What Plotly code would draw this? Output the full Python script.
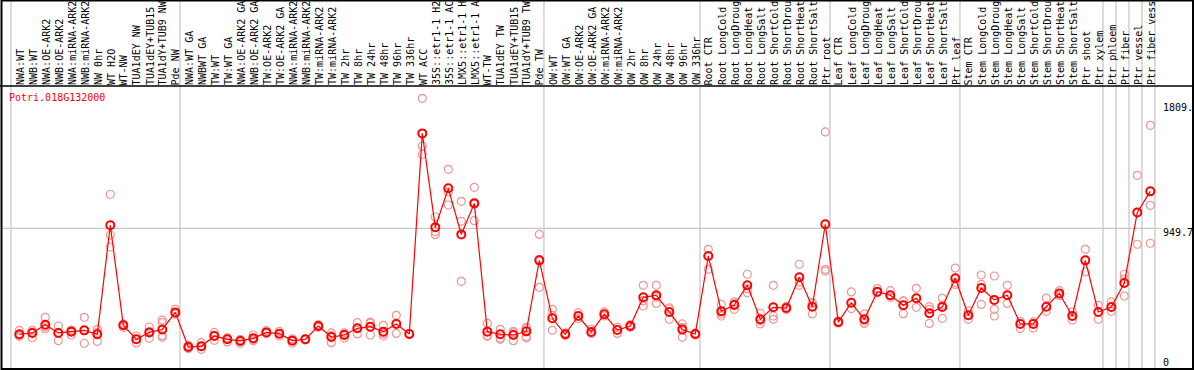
import plotly.graph_objects as go

# ---------------- data ----------------
title_text = "Potri.018G132000"

labels = [
    "NWA:WT", "NWB:WT", "NWA:OE-ARK2", "NWB:OE-ARK2", "NWA:miRNA-ARK2", "NWB:miRNA-ARK2",
    "NW 0hr", "WT H2O", "WT-NW", "TUA1dEY NW", "TUA1dEY+TUB15", "TUA1dY+TUB9 NW", "Pde NW",
    "NWA:WT GA", "NWBWT GA", "TW:WT", "TW:WT GA", "NWA:OE-ARK2 GA", "NWB:OE-ARK2 GA",
    "TW:OE-ARK2", "TW:OE-ARK2 GA", "NWA:miRNA-ARK2", "NWB:miRNA-ARK2", "TW:miRNA-ARK2",
    "TW:miRNA-ARK2", "TW 2hr", "TW 8hr", "TW 24hr", "TW 48hr", "TW 96hr", "TW 336hr",
    "WT ACC", "35S::etr1-1 H2", "35S::etr1-1 AC", "LMX5::etr1-1 H", "LMX5::etr1-1 A",
    "WT-TW", "TUA1dEY TW", "TUA1dEY+TUB15", "TUA1dY+TUB9 TW", "Pde TW",
    "OW:WT", "OW:WT GA", "OW:OE-ARK2", "OW:OE-ARK2 GA", "OW:miRNA-ARK2", "OW:miRNA-ARK2",
    "OW 2hr", "OW 8hr", "OW 24hr", "OW 48hr", "OW 96hr", "OW 336hr",
    "Root CTR", "Root LongCold", "Root LongDroug", "Root LongHeat", "Root LongSalt",
    "Root ShortCold", "Root ShortDrou", "Root ShortHeat", "Root ShortSalt", "Ptr root",
    "Leaf CTR", "Leaf LongCold", "Leaf LongDroug", "Leaf LongHeat", "Leaf LongSalt",
    "Leaf ShortCold", "Leaf ShortDrou", "Leaf ShortHeat", "Leaf ShortSalt", "Ptr leaf",
    "Stem CTR", "Stem LongCold", "Stem LongDroug", "Stem LongHeat", "Stem LongSalt",
    "Stem ShortCold", "Stem ShortDrou", "Stem ShortHeat", "Stem ShortSalt", "Ptr shoot",
    "Ptr xylem", "Ptr phloem", "Ptr fiber", "Ptr vessel", "Ptr fiber vess",
]

group_sizes = [13, 28, 12, 10, 10, 11, 1, 1, 1, 1]

means = [
    219, 228, 285, 228, 237, 246, 219, 971, 281, 184, 232, 252, 370,
    131, 136, 207, 184, 173, 191, 232, 223, 175, 184, 276, 200, 214, 260, 271, 237, 290, 221,
    1605, 957, 1226, 908, 1122, 237, 219, 214, 239, 729,
    329, 219, 345, 235, 357, 248, 276, 474, 488, 373, 251, 221,
    759, 377, 421, 557, 322, 405, 400, 612, 409, 978,
    303, 437, 322, 513, 488, 419, 467, 364, 407, 605,
    350, 538, 456, 488, 290, 290, 409, 501, 345, 729, 373,
    407, 573, 1060, 1205,
]

replicates = [
    [246, 212, 205], [246, 195, 232], [336, 257, 270], [276, 175, 232], [246, 214, 248],
    [336, 157, 244], [253, 170, 232], [1185, 904, 821], [290, 267, 285], [207, 159, 186],
    [269, 191, 236], [317, 299, 209, 198], [391, 359, 360],
    [143, 120, 131], [161, 115, 132], [232, 177, 212], [195, 166, 190], [184, 157, 178],
    [214, 175, 184], [244, 225, 228], [239, 207, 224], [188, 157, 180], [188, 180],
    [285, 267], [228, 161, 211], [228, 193, 221], [299, 221], [303, 214, 296],
    [281, 207, 223], [350, 225, 295], [225, 218],
    [1847, 1518, 1461], [1028, 927, 906], [1357, 1201, 1111], [1136, 998, 584],
    [1233, 1003, 1130], [294, 212, 205], [253, 193, 184], [239, 175, 228],
    [267, 202, 193, 260], [908, 543, 736],
    [391, 246, 350], [228, 212], [368, 327], [253, 225], [373, 345], [267, 225],
    [285, 267], [557, 414, 451], [557, 432, 475], [402, 322, 394], [290, 198, 265], [228, 214],
    [805, 667], [425, 345, 360], [442, 391, 430], [633, 506, 532], [364, 290, 312],
    [557, 345, 322], [412, 390], [702, 557, 580], [437, 359, 430], [1615, 667, 655],
    [310, 296], [511, 396], [359, 294, 310], [534, 506], [520, 474], [449, 361, 447],
    [536, 405], [409, 294, 389], [469, 329, 420], [676, 563, 576],
    [380, 322], [628, 563, 425], [621, 391, 345], [557, 432], [308, 258], [304, 262],
    [469, 377], [520, 486], [373, 317], [805, 649], [419, 322],
    [442, 377], [633, 483, 600], [1316, 840], [1661, 1109, 847],
]

axis_texts = ["1809.", "949.7", "0"]
grid_value = 949.7

# ---------------- geometry ----------------
W, H = 1194, 370
PX_X0, PX_DX = 19.3, 13.0          # pixel of first column centre, column step
V_PER_PX = 6.9                      # value units per pixel vertically
Y_ZERO_PX = 366.0

x_range = [(0 - PX_X0) / PX_DX, (W - PX_X0) / PX_DX]
y_range = [-(H - Y_ZERO_PX) * V_PER_PX, Y_ZERO_PX * V_PER_PX]

def px_to_paper_x(px):
    return px / W

def px_to_paper_y(py):
    return 1 - py / H

n = len(labels)
xs = list(range(n))

rep_x, rep_y = [], []
for i, reps in enumerate(replicates):
    for v in reps:
        rep_x.append(i)
        rep_y.append(v)

fig = go.Figure()
fig.add_trace(go.Scatter(
    x=rep_x, y=rep_y, mode="markers",
    marker=dict(symbol="circle-open", size=8, color="rgb(238,150,150)",
                line=dict(width=1.2, color="rgb(238,150,150)")),
    hoverinfo="skip", showlegend=False,
))
fig.add_trace(go.Scatter(
    x=xs, y=means, mode="lines+markers",
    line=dict(color="#ff0000", width=1.2),
    marker=dict(symbol="circle-open", size=8, color="#ff0000",
                line=dict(width=2, color="#ff0000")),
    showlegend=False,
))

shapes = []
boundaries = [0]
for g in group_sizes:
    boundaries.append(boundaries[-1] + g)
for b in boundaries:
    xb = b - 0.64
    shapes.append(dict(type="line", xref="x", yref="paper", x0=xb, x1=xb,
                       y0=px_to_paper_y(369), y1=1, line=dict(color="#c8c8c8", width=1.3),
                       layer="below"))
shapes.append(dict(type="line", xref="paper", yref="y", x0=px_to_paper_x(1), x1=px_to_paper_x(1161),
                   y0=grid_value, y1=grid_value, line=dict(color="#c8c8c8", width=1.3), layer="below"))
shapes.append(dict(type="line", xref="paper", yref="paper", x0=0, x1=px_to_paper_x(1194),
                   y0=px_to_paper_y(86), y1=px_to_paper_y(86), line=dict(color="black", width=1.5)))
shapes.append(dict(type="rect", xref="paper", yref="paper", x0=px_to_paper_x(1.5), x1=px_to_paper_x(1193),
                   y0=px_to_paper_y(369), y1=px_to_paper_y(0.5), line=dict(color="black", width=2)))

annotations = []
mono = "DejaVu Sans Mono"
for i, lab in enumerate(labels):
    annotations.append(dict(x=i + 0.05, xref="x", y=px_to_paper_y(86), yref="paper",
                            text=lab[:14], textangle=-90, showarrow=False,
                            xanchor="center", yanchor="bottom",
                            font=dict(family=mono, size=10, color="black"),
                            borderpad=0))
annotations.append(dict(x=px_to_paper_x(8), xref="paper", y=px_to_paper_y(97), yref="paper",
                        text=title_text, showarrow=False, xanchor="left", yanchor="middle",
                        font=dict(family=mono, size=10, color="#ff0000"), borderpad=0))
label_px = [107.5, 232, 362]
for txt, py in zip(axis_texts, label_px):
    annotations.append(dict(x=px_to_paper_x(1162), xref="paper", y=px_to_paper_y(py), yref="paper",
                            text=txt, showarrow=False, xanchor="left", yanchor="middle",
                            font=dict(family=mono, size=10, color="black"), borderpad=0))

fig.update_layout(
    width=W, height=H,
    margin=dict(l=0, r=0, t=0, b=0),
    paper_bgcolor="white", plot_bgcolor="white",
    xaxis=dict(range=x_range, visible=False, fixedrange=True),
    yaxis=dict(range=y_range, visible=False, fixedrange=True),
    shapes=shapes, annotations=annotations,
    showlegend=False,
)

fig.write_html(
    "out.html",
    config={"displayModeBar": False},
    post_script="document.body.style.margin='0';document.body.style.overflow='hidden';",
)
